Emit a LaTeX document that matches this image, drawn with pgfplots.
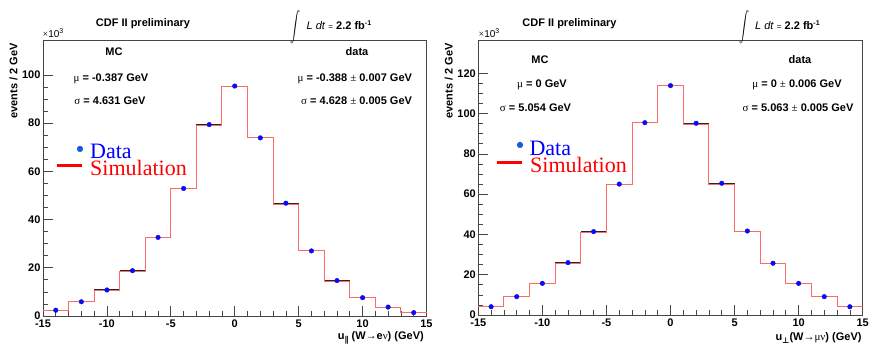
\documentclass[border=0pt]{standalone}
\usepackage{fontspec}
\setmainfont{Liberation Sans}
\newfontfamily\serif{Liberation Serif}
\newfontfamily\dejavu{DejaVu Sans}
\usepackage{pgfplots}
\pgfplotsset{compat=1.18}
\definecolor{histred}{RGB}{255,105,105}
\definecolor{dotblue}{RGB}{10,10,250}
\definecolor{legblue}{RGB}{20,90,230}
\definecolor{frame}{RGB}{70,70,70}
\pgfplotsset{
  rootstyle/.style={
    scale only axis,
    xmin=-15, xmax=15, ymin=0,
    axis line style={frame, line width=0.8pt},
    tick pos=left,
    tick align=inside,
    xtick={-15,-10,...,15},
    minor x tick num=4,
    minor y tick num=3,
    major tick length=10pt,
    minor tick length=5pt,
    every tick/.style={frame, line width=0.7pt},
    /pgf/number format/assume math mode=true,
    ticklabel style={font=\bfseries\fontsize{11}{12}\selectfont},
    yticklabel style={xshift=1pt},
    clip=false,
  }
}
\newcommand{\txt}{\bfseries\fontsize{11}{13}\selectfont}
\newcommand{\lumi}{\fontsize{11}{13}\selectfont\textit{L dt} {\fontsize{8}{9}\selectfont=} \textbf{2.2 fb}\raisebox{4pt}{\fontsize{7}{8}\selectfont\bfseries -1}}
\newcommand{\bigint}{\scalebox{1.0}[1.5]{$\displaystyle\int$}}
\begin{document}
\begin{tikzpicture}[x=1pt,y=1pt]
\useasboundingbox (0,0) rectangle (870,347);
% ---------------- left panel ----------------
\begin{axis}[rootstyle, at={(43pt,31pt)}, anchor=south west,
  width=383.5pt, height=276pt, ymax=114.5, ytick={0,20,...,100}]
% data horizontal bars (black)
\addplot[draw=none, mark=none, forget plot,
  error bars/.cd, x dir=both, x explicit,
  error bar style={black!85, line width=1.0pt}, error mark=none]
  table[x=x, y=y, x error=e] {
x y e
-14 2.4 1
-12 5.9 1
-10 10.8 1
-8 18.8 1
-6 32.6 1
-4 52.9 1
-2 79.4 1
0 95.4 1
2 73.9 1
4 46.8 1
6 27.0 1
8 14.7 1
10 7.6 1
12 3.7 1
14 1.4 1
};
% MC histogram (red)
\addplot[const plot, histred, line width=1.0pt, mark=none] coordinates {
(-15,2.4) (-13,5.9) (-11,10.4) (-9,18.4) (-7,32.6) (-5,52.9) (-3,79.0)
(-1,95.0) (1,73.9) (3,46.3) (5,27.0) (7,14.3) (9,7.6) (11,3.7) (13,1.4) (15,1.4)};
% data points (blue)
\addplot[only marks, mark=*, mark size=2.3pt, dotblue] coordinates {
(-14,2.4) (-12,5.9) (-10,10.8) (-8,18.8) (-6,32.6) (-4,52.9) (-2,79.4)
(0,95.4) (2,73.9) (4,46.8) (6,27.0) (8,14.7) (10,7.6) (12,3.7) (14,1.4)};
\end{axis}
% ---------------- right panel ----------------
\begin{axis}[rootstyle, at={(478.3pt,32pt)}, anchor=south west,
  width=384.4pt, height=274.3pt, ymax=136.2, ytick={0,20,...,120}]
\addplot[draw=none, mark=none, forget plot,
  error bars/.cd, x dir=both, x explicit,
  error bar style={black!85, line width=1.0pt}, error mark=none]
  table[x=x, y=y, x error=e] {
x y e
-14 4.1 1
-12 9.1 1
-10 15.7 1
-8 26.0 1
-6 41.4 1
-4 65.0 1
-2 95.5 1
0 113.9 1
2 95.2 1
4 65.4 1
6 41.7 1
8 25.7 1
10 15.7 1
12 9.1 1
14 4.1 1
};
\addplot[const plot, histred, line width=1.0pt, mark=none] coordinates {
(-15,4.1) (-13,9.1) (-11,15.7) (-9,25.6) (-7,41.0) (-5,65.0) (-3,95.5)
(-1,113.9) (1,94.8) (3,65.0) (5,41.7) (7,25.7) (9,15.7) (11,9.1) (13,4.1) (15,4.1)};
\addplot[only marks, mark=*, mark size=2.3pt, dotblue] coordinates {
(-14,4.1) (-12,9.1) (-10,15.7) (-8,26.0) (-6,41.4) (-4,65.0) (-2,95.5)
(0,113.9) (2,95.2) (4,65.4) (6,41.7) (8,25.7) (10,15.7) (12,9.1) (14,4.1)};
\end{axis}
% ---------------- texts, left ----------------
\node[font=\txt] at (143,323) {CDF II preliminary};
\node[inner sep=0pt, font=\fontsize{16}{20}\selectfont] at (295,319.5) {\bigint};
\node[anchor=west, inner sep=0pt] at (306.5,322) {\lumi};
\node[anchor=west, inner sep=0pt, font=\fontsize{10}{12}\selectfont] at (42.5,313.5) {{\serif ×}10\raisebox{4pt}{\fontsize{7}{8}\selectfont 3}};
\node[font=\txt] at (114,295.5) {MC};
\node[font=\txt] at (357,295.5) {data};
\node[font=\txt] at (111,268) {{\serif\mdseries μ} = -0.387 GeV};
\node[font=\txt] at (110,246) {{\serif\mdseries σ} = 4.631 GeV};
\node[font=\txt, anchor=east] at (415.5,268) {{\serif\mdseries μ} = -0.388 {\serif\mdseries ±} 0.007 GeV};
\node[font=\txt, anchor=east] at (415.5,246) {{\serif\mdseries σ} = 4.628 {\serif\mdseries ±} 0.005 GeV};
\node[font=\txt, rotate=90, anchor=east, inner sep=0pt] at (13.5,304) {events / 2 GeV};
\node[font=\txt, anchor=east, inner sep=0pt] at (424,9) {u{\dejavu\bfseries\raisebox{-3pt}{\fontsize{8}{9}\selectfont ∥}} (W{\serif\mdseries →}e{\serif\mdseries ν}) (GeV)};
% legend left
\node[anchor=center, inner sep=0pt, text=legblue, font=\dejavu\fontsize{8}{9}\selectfont] at (80,198) {●};
\node[anchor=west, inner sep=0pt] at (56.7,181.7) {\textcolor{red}{\rule{25pt}{3pt}}};
\node[anchor=base west, inner sep=0pt, text=blue, font=\serif\fontsize{22}{22}\selectfont] at (90,188.7) {Data};
\node[anchor=base west, inner sep=0pt, text=red, font=\serif\fontsize{22}{22}\selectfont] at (90,171.3) {Simulation};
% ---------------- texts, right ----------------
\node[font=\txt] at (569.5,323) {CDF II preliminary};
\node[inner sep=0pt, font=\fontsize{16}{20}\selectfont] at (744,319.5) {\bigint};
\node[anchor=west, inner sep=0pt] at (755,322) {\lumi};
\node[anchor=west, inner sep=0pt, font=\fontsize{10}{12}\selectfont] at (478.5,313.5) {{\serif ×}10\raisebox{4pt}{\fontsize{7}{8}\selectfont 3}};
\node[font=\txt] at (540,287) {MC};
\node[font=\txt] at (800,287) {data};
\node[font=\txt] at (542,262) {{\serif\mdseries μ} = 0 GeV};
\node[font=\txt] at (535.5,239) {{\serif\mdseries σ} = 5.054 GeV};
\node[font=\txt] at (797,262) {{\serif\mdseries μ} = 0 {\serif\mdseries ±} 0.006 GeV};
\node[font=\txt] at (798,239) {{\serif\mdseries σ} = 5.063 {\serif\mdseries ±} 0.005 GeV};
\node[font=\txt, rotate=90, anchor=east, inner sep=0pt] at (448.8,304) {events / 2 GeV};
\node[font=\txt, anchor=east, inner sep=0pt] at (861.7,9) {u{\dejavu\bfseries\raisebox{-3pt}{\fontsize{8}{9}\selectfont ⊥}}(W{\serif\mdseries →μν}) (GeV)};
% legend right
\node[anchor=center, inner sep=0pt, text=legblue, font=\dejavu\fontsize{8}{9}\selectfont] at (520,202) {●};
\node[anchor=west, inner sep=0pt] at (496.7,184.3) {\textcolor{red}{\rule{25pt}{3pt}}};
\node[anchor=base west, inner sep=0pt, text=blue, font=\serif\fontsize{22}{22}\selectfont] at (529.3,191) {Data};
\node[anchor=base west, inner sep=0pt, text=red, font=\serif\fontsize{22}{22}\selectfont] at (530,174.3) {Simulation};
\end{tikzpicture}
\end{document}
